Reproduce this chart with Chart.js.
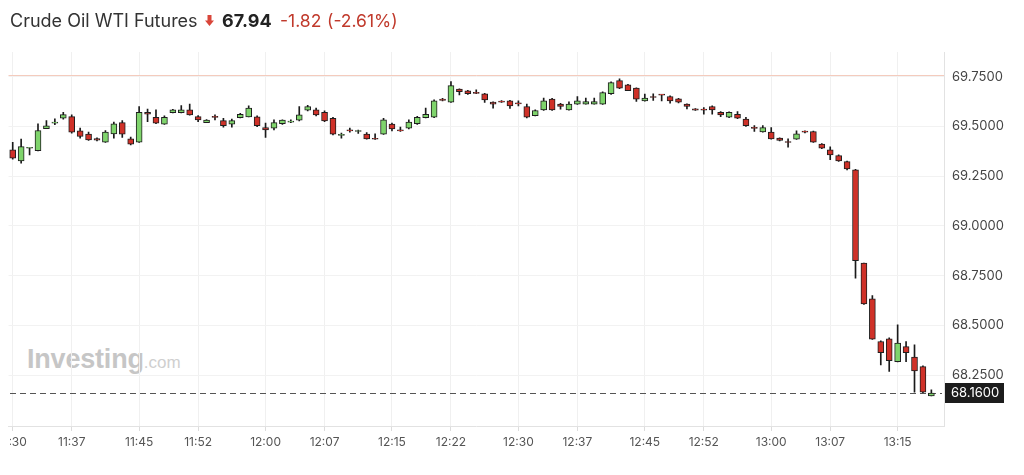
<!DOCTYPE html>
<html><head><meta charset="utf-8">
<script src="https://cdn.jsdelivr.net/npm/chart.js@4.4.0/dist/chart.umd.min.js"></script>
<style>
html,body{margin:0;padding:0;background:#fff;width:1024px;height:475px;overflow:hidden;}
#wrap{position:relative;width:1024px;height:475px;}
canvas{position:absolute;left:0;top:0;}
.t{position:absolute;font-family:Inter,"Liberation Sans",sans-serif;font-size:18px;line-height:18px;top:11.5px;white-space:nowrap;}
#wm{position:absolute;left:27px;top:346px;line-height:27px;white-space:nowrap;font-family:"Liberation Sans",Arial,sans-serif;}
#wm .b{font-size:27px;font-weight:700;color:#c6c6c6;letter-spacing:-0.2px;}
#wm .c{font-size:17px;font-weight:400;color:#cfcfcf;}
#arrow{position:absolute;left:205px;top:15px;}
</style></head>
<body><div id="wrap">
<div id="wm"><span class="b">Investing</span><span class="c">.com</span></div>
<canvas id="c" width="1024" height="475" style="width:1024px;height:475px"></canvas>
<div class="t" style="left:10px;color:#333">Crude Oil WTI Futures</div>
<svg id="arrow" width="9" height="11" viewBox="0 0 9 11"><path d="M2.5 0 H6.5 V5.5 H9 L4.5 11 L0 5.5 H2.5 Z" fill="#d9463a"/></svg>
<div class="t" style="left:222px;font-weight:700;color:#222">67.94</div>
<div class="t" style="left:280px;color:#c0392b;font-size:17.5px">-1.82</div>
<div class="t" style="left:327px;color:#c0392b;font-size:17.5px">(-2.61%)</div>
</div>
<script>
const times = ["11:30","11:31","11:32","11:33","11:34","11:35","11:36","11:37","11:38","11:39",
"11:40","11:41","11:42","11:43","11:44","11:45","11:46","11:47","11:48","11:49",
"11:50","11:51","11:52","11:53","11:54","11:55","11:56","11:57","11:58","11:59",
"12:00","12:01","12:02","12:03","12:04","12:05","12:06","12:07","12:08","12:09",
"12:10","12:11","12:12","12:13","12:14","12:15","12:16","12:17","12:18","12:19",
"12:20","12:21","12:22","12:23","12:24","12:25","12:26","12:27","12:28","12:29",
"12:30","12:31","12:32","12:33","12:34","12:35","12:36","12:37","12:38","12:39",
"12:40","12:41","12:42","12:43","12:44","12:45","12:46","12:47","12:48","12:49",
"12:50","12:51","12:52","12:53","12:54","12:55","12:56","12:57","12:58","12:59",
"13:00","13:01","13:02","13:03","13:04","13:05","13:06","13:07","13:08","13:09",
"13:10","13:11","13:12","13:13","13:14","13:15","13:16","13:17","13:18","13:19","13:20"];

const openP = [69.383,69.327,69.391,69.379,69.490,69.517,69.542,69.550,69.478,69.462,
69.440,69.421,69.463,69.520,69.438,69.421,69.572,69.547,69.512,69.570,
69.570,69.584,69.550,69.520,69.547,69.530,69.512,69.545,69.549,69.549,
69.495,69.492,69.514,69.522,69.532,69.583,69.584,69.572,69.542,69.456,
69.483,69.475,69.462,69.441,69.462,69.512,69.482,69.492,69.514,69.545,
69.547,69.638,69.623,69.688,69.680,69.668,69.665,69.623,69.625,69.629,
69.617,69.601,69.555,69.584,69.638,69.613,69.584,69.613,69.613,69.613,
69.613,69.665,69.731,69.710,69.693,69.629,69.647,69.659,69.651,69.639,
69.613,69.589,69.584,69.601,69.572,69.547,69.562,69.537,69.493,69.473,
69.472,69.442,69.423,69.437,69.474,69.475,69.412,69.383,69.354,69.324,
69.282,68.813,68.633,68.419,68.432,68.318,68.393,68.340,68.293,68.145];
const highP = [69.421,69.437,69.393,69.514,69.530,69.539,69.572,69.559,69.492,69.472,
69.443,69.480,69.522,69.530,69.447,69.601,69.588,69.584,69.554,69.587,
69.606,69.613,69.555,69.535,69.559,69.542,69.537,69.566,69.604,69.554,
69.517,69.534,69.534,69.534,69.601,69.607,69.593,69.579,69.546,69.467,
69.492,69.482,69.470,69.463,69.542,69.517,69.497,69.534,69.551,69.593,
69.634,69.642,69.726,69.690,69.682,69.685,69.667,69.624,69.631,69.632,
69.629,69.613,69.584,69.643,69.642,69.617,69.624,69.651,69.643,69.643,
69.675,69.725,69.740,69.712,69.695,69.663,69.665,69.660,69.654,69.642,
69.614,69.591,69.596,69.604,69.575,69.574,69.575,69.547,69.505,69.505,
69.495,69.443,69.438,69.478,69.478,69.477,69.415,69.398,69.358,69.327,
69.285,68.814,68.650,68.422,68.437,68.503,68.419,68.402,68.296,68.176];
const lowP = [69.336,69.316,69.358,69.378,69.489,69.509,69.537,69.467,69.442,69.430,
69.428,69.420,69.442,69.445,69.408,69.420,69.525,69.514,69.511,69.569,
69.569,69.557,69.525,69.519,69.534,69.497,69.497,69.544,69.548,69.499,
69.445,69.483,69.511,69.520,69.529,69.579,69.554,69.525,69.458,69.442,
69.472,69.465,69.437,69.435,69.461,69.478,69.475,69.488,69.511,69.544,
69.545,69.629,69.622,69.659,69.662,69.666,69.621,69.593,69.621,69.591,
69.604,69.544,69.554,69.581,69.581,69.588,69.582,69.611,69.612,69.612,
69.611,69.662,69.691,69.680,69.626,69.628,69.631,69.629,69.618,69.619,
69.589,69.581,69.562,69.562,69.550,69.545,69.540,69.501,69.475,69.472,
69.437,69.428,69.396,69.435,69.468,69.420,69.389,69.333,69.325,69.282,
68.737,68.606,68.429,68.301,68.268,68.316,68.318,68.164,68.162,68.145];
const closeP = [69.341,69.399,69.392,69.480,69.504,69.519,69.560,69.472,69.450,69.433,
69.432,69.472,69.514,69.462,69.412,69.572,69.562,69.517,69.547,69.584,
69.584,69.559,69.534,69.532,69.546,69.504,69.530,69.562,69.593,69.504,
69.483,69.520,69.532,69.523,69.559,69.601,69.559,69.529,69.462,69.461,
69.478,69.476,69.438,69.436,69.534,69.488,69.478,69.522,69.547,69.562,
69.629,69.631,69.706,69.675,69.665,69.667,69.634,69.613,69.623,69.604,
69.614,69.547,69.581,69.629,69.584,69.601,69.613,69.629,69.626,69.626,
69.671,69.721,69.693,69.681,69.638,69.643,69.646,69.658,69.629,69.623,
69.601,69.583,69.583,69.584,69.559,69.572,69.542,69.504,69.491,69.495,
69.438,69.430,69.420,69.463,69.472,69.421,69.391,69.358,69.327,69.287,
68.825,68.608,68.431,68.363,68.322,68.411,68.363,68.271,68.164,68.160];

const tickIndex = [0,7,15,22,30,37,45,52,60,67,75,82,90,97,105];
const tickLabels = ["11:30","11:37","11:45","11:52","12:00","12:07","12:15","12:22","12:30","12:37","12:45","12:52","13:00","13:07","13:15"];
const yTicks = [68.25,68.5,68.75,69.0,69.25,69.5,69.75];
const yMin = 67.994, yMax = 69.875;
const priorClose = 69.76;
const lastPrice = 68.16;

const tickMap = {};
tickIndex.forEach((ix,k)=>{tickMap[ix]=tickLabels[k];});

const bodies = openP.map((o,i)=>[o, closeP[i]]);
const wicks = lowP.map((l,i)=>[l, highP[i]]);
const bodyColors = openP.map((o,i)=> closeP[i] >= o ? '#7fd46c' : '#cf3128');

const overlay = {
  id:'overlay',
  beforeDatasetsDraw(chart){
    const {ctx, chartArea:a, scales:{y}} = chart;
    ctx.save();
    const pc = Math.round(y.getPixelForValue(priorClose))+0.5;
    ctx.strokeStyle = '#f4cbbd'; ctx.lineWidth = 1;
    ctx.beginPath(); ctx.moveTo(a.left, pc); ctx.lineTo(a.right, pc); ctx.stroke();
    const lp = Math.round(y.getPixelForValue(lastPrice))+0.5;
    ctx.strokeStyle = '#555'; ctx.setLineDash([6,4]);
    ctx.beginPath(); ctx.moveTo(10, lp); ctx.lineTo(a.right-2, lp); ctx.stroke();
    ctx.restore();
  },
  afterDraw(chart){
    const {ctx, chartArea:a, scales:{y}} = chart;
    ctx.save();
    const lp = y.getPixelForValue(lastPrice);
    ctx.fillStyle = '#1c1c1c';
    ctx.fillRect(a.right+1, Math.round(lp)-10, 59, 20);
    ctx.fillStyle = '#fff';
    ctx.font = '13px Inter, "Liberation Sans", sans-serif';
    ctx.textBaseline = 'middle'; ctx.textAlign = 'left';
    ctx.fillText(lastPrice.toFixed(4), a.right+7, Math.round(lp)+0.5);
    ctx.fillStyle = '#fff';
    ctx.fillRect(0, a.bottom+7, 10, chart.height - a.bottom - 7);
    ctx.restore();
  }
};

new Chart(document.getElementById('c'), {
  type:'bar',
  data:{labels: times, datasets:[
    {label:'body', data: bodies, backgroundColor: bodyColors, borderColor:'#1e1e1e', borderWidth:1,
     borderSkipped:false, barThickness:6, grouped:false, order:0, minBarLength:1},
    {label:'wick', data: wicks, backgroundColor:'#1a1a1a', borderWidth:0, barThickness:1, grouped:false, order:1}
  ]},
  options:{
    responsive:false, animation:false, events:[],
    layout:{padding:{left:8.5, top:52, right:0, bottom:0}},
    plugins:{legend:{display:false}, tooltip:{enabled:false}},
    scales:{
      x:{type:'category', offset:true,
        grid:{offset:false, drawTicks:true, tickLength:5,
          color: c => tickMap[c.index] !== undefined ? '#f0f0f0' : 'rgba(0,0,0,0)',
          tickColor: c => tickMap[c.index] !== undefined ? '#dcdcdc' : 'rgba(0,0,0,0)'},
        border:{color:'#e2e2e2'},
        ticks:{autoSkip:false, maxRotation:0, minRotation:0, padding:4, color:'#555',
          font:{family:'Inter, "Liberation Sans", sans-serif', size:12},
          callback:(v,i)=> tickMap[i] !== undefined ? tickMap[i] : ''},
        afterFit(s){ s.paddingLeft = 0; s.paddingRight = 0; s.height = 49; }
      },
      y:{position:'right', min:yMin, max:yMax,
        afterBuildTicks(s){ s.ticks = yTicks.map(v=>({value:v})); },
        grid:{color:'#f2f2f2', drawTicks:false},
        border:{color:'#e2e2e2'},
        ticks:{padding:8, color:'#444', font:{family:'Inter, "Liberation Sans", sans-serif', size:13},
          callback:v=> Number(v).toFixed(4)},
        afterFit(s){ s.width = 80; }
      }
    }
  },
  plugins:[overlay]
});
</script>
</body></html>
